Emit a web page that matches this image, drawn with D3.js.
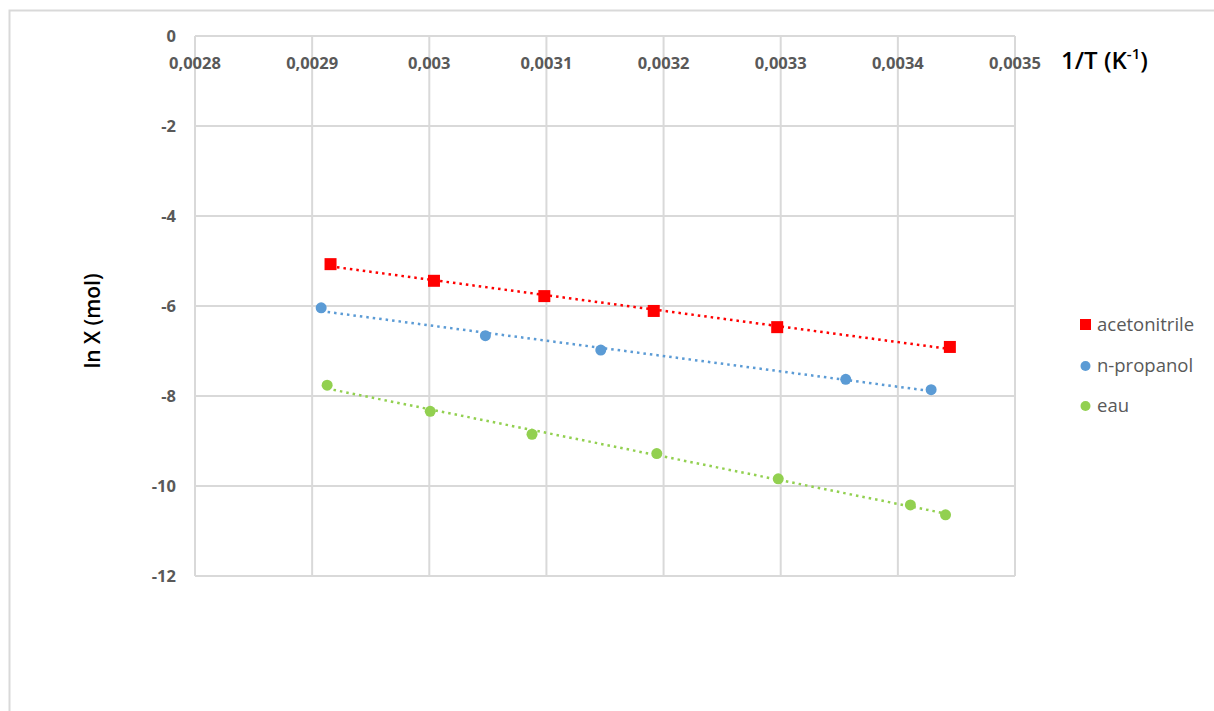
<!DOCTYPE html>
<html><head><meta charset="utf-8">
<script src="https://cdn.jsdelivr.net/npm/d3@7"></script>
<style>body{margin:0;background:#fff}svg{display:block}</style>
</head><body>
<script>
const acetoX=[0.0029157,0.0030040,0.0030982,0.0031916,0.0032970,0.0034444];
const acetoY=[-5.07,-5.44,-5.78,-6.11,-6.47,-6.91];
const propX=[0.0029077,0.0030479,0.0031464,0.0033555,0.0034284];
const propY=[-6.04,-6.66,-6.98,-7.63,-7.86];
const eauX=[0.0029128,0.0030008,0.0030877,0.0031942,0.0032979,0.0034107,0.0034407];
const eauY=[-7.76,-8.34,-8.85,-9.28,-9.84,-10.42,-10.64];
const xTicks=[0.0028,0.0029,0.0030,0.0031,0.0032,0.0033,0.0034,0.0035];
const yTicks=[0,-2,-4,-6,-8,-10,-12];
const seriesNames=["acetonitrile","n-propanol","eau"];
const seriesColors=["#ff0000","#5b9bd5","#92d050"];

const W=1214,H=711;
const svg=d3.select("body").append("svg").attr("width",W).attr("height",H);
const font="'Open Sans','Liberation Sans',sans-serif";
svg.append("path").attr("d",`M9.5,${H+5} V10.5 H${W+5}`).attr("fill","none").attr("stroke","#d9d9d9").attr("stroke-width",2);

const x=d3.scaleLinear().domain([0.0028,0.0035]).range([195,1015]);
const y=d3.scaleLinear().domain([-12,0]).range([576,36]);
const g=svg.append("g");
g.selectAll(".vg").data(xTicks).join("line").attr("x1",d=>x(d)).attr("x2",d=>x(d)).attr("y1",y(0)).attr("y2",y(-12)).attr("stroke","#d9d9d9").attr("stroke-width",2);
g.selectAll(".hg").data(yTicks).join("line").attr("x1",x(0.0028)).attr("x2",x(0.0035)).attr("y1",d=>y(d)).attr("y2",d=>y(d)).attr("stroke","#d9d9d9").attr("stroke-width",2);

const fmt=d=>String(+d.toFixed(4)).replace(".",",");
g.selectAll(".xt").data(xTicks).join("text").attr("x",d=>x(d)).attr("y",69).attr("text-anchor","middle")
 .attr("font-family",font).attr("font-size",16.5).attr("font-weight",700).attr("fill","#595959").text(fmt);
g.selectAll(".yt").data(yTicks).join("text").attr("x",176).attr("y",d=>y(d)+6).attr("text-anchor","end")
 .attr("font-family",font).attr("font-size",16.5).attr("font-weight",700).attr("fill","#595959").text(d=>d);

const xt=svg.append("text").attr("x",1061).attr("y",69).attr("font-family",font).attr("font-size",24).attr("font-weight",600).attr("fill","#000");
xt.append("tspan").text("1/T (K");
xt.append("tspan").attr("dy",-10).attr("font-size",15).text("-1");
xt.append("tspan").attr("dy",10).text(")");
svg.append("text").attr("transform","translate(100,321) rotate(-90)").attr("text-anchor","middle")
 .attr("font-family",font).attr("font-size",21).attr("font-weight",600).attr("fill","#000").text("ln X (mol)");

const series=[[acetoX,acetoY],[propX,propY],[eauX,eauY]];
series.forEach(([xs,ys],i)=>{
  const mx=d3.mean(xs),my=d3.mean(ys);
  const b=d3.sum(xs.map((v,k)=>(v-mx)*(ys[k]-my)))/d3.sum(xs.map(v=>(v-mx)**2));
  const a=my-b*mx;
  const x0=d3.min(xs),x1=d3.max(xs);
  g.append("line").attr("x1",x(x0)).attr("y1",y(a+b*x0)).attr("x2",x(x1)).attr("y2",y(a+b*x1))
   .attr("stroke",seriesColors[i]).attr("stroke-width",2.5).attr("stroke-dasharray","2.5,4");
});
series.forEach(([xs,ys],i)=>{
  const pts=xs.map((v,k)=>[v,ys[k]]);
  if(i===0){
    g.selectAll(null).data(pts).join("rect").attr("x",d=>x(d[0])-6).attr("y",d=>y(d[1])-6).attr("width",12).attr("height",12).attr("fill",seriesColors[i]);
  } else {
    g.selectAll(null).data(pts).join("circle").attr("cx",d=>x(d[0])).attr("cy",d=>y(d[1])).attr("r",5.5).attr("fill",seriesColors[i]);
  }
});

const ly=[325,366,406];
seriesNames.forEach((nm,i)=>{
  if(i===0) svg.append("rect").attr("x",1080).attr("y",ly[i]-6).attr("width",11).attr("height",11).attr("fill",seriesColors[i]);
  else svg.append("circle").attr("cx",1085.5).attr("cy",ly[i]).attr("r",5).attr("fill",seriesColors[i]);
  svg.append("text").attr("x",1097).attr("y",ly[i]+6).attr("font-family",font).attr("font-size",18.5).attr("fill","#595959").text(nm);
});
</script>
</body></html>
